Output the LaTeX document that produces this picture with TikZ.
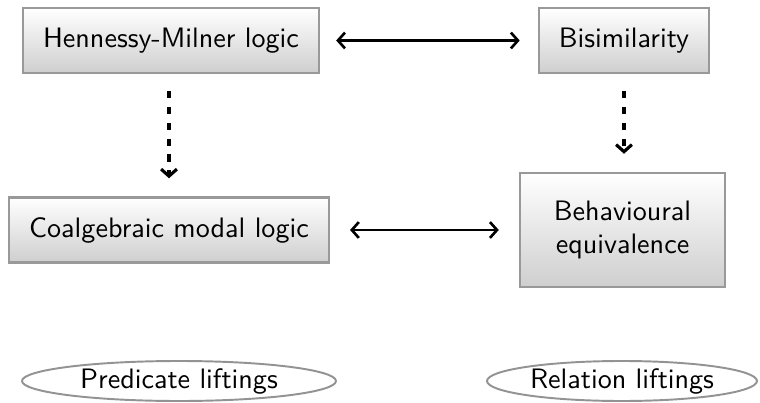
\documentclass[tikz,border=0pt]{standalone}
\usepackage{fontspec}
\setsansfont{lmsans10-regular.otf}
\usepackage{xcolor}
\usepackage{tikz}
\usetikzlibrary{arrows.meta,positioning,shapes.geometric}

\begin{document}
\begin{tikzpicture}[
    font=\sffamily\fontsize{16}{19}\selectfont,
    concept/.style={draw=gray!80, line width=1.4pt, top color=white, bottom color=gray!38, inner xsep=0.4cm, minimum height=1.3cm},
    tool/.style={draw=gray!85, ellipse, line width=1.1pt, fill=white, inner sep=0pt, minimum height=0.8cm},
    equiv/.style={{Straight Barb[length=4pt,width=9pt]}-{Straight Barb[length=4pt,width=9pt]}, line width=1.5pt},
    implies/.style={-{Straight Barb[length=4pt,width=9pt]}, line width=1.8pt, dash pattern=on 4pt off 5pt, shorten <=0.34cm, shorten >=0.36cm}
]
\useasboundingbox (0,0) rectangle (15.2,8.04);

\node[concept] (hml) at (3.42, 7.23) {Hennessy-Milner logic};
\node[concept] (bisim) at (12.48, 7.23) {Bisimilarity};
\node[concept] (cml) at (3.38, 3.44) {Coalgebraic modal logic};
\node[concept, align=center, minimum width=4.1cm, minimum height=2.28cm] (beheq) at (12.45, 3.44) {Behavioural\\equivalence};

\node[tool, minimum width=6.28cm] (predlift) at (3.58, 0.42) {Predicate liftings};
\node[tool, minimum width=5.4cm] (rellift) at (12.44, 0.42) {Relation liftings};

\draw[equiv, shorten <=0.32cm, shorten >=0.36cm] (hml) -- (bisim);
\draw[equiv, shorten <=0.4cm, shorten >=0.4cm] (cml) -- (beheq);
\draw[implies] (hml.south -| cml) -- (cml);
\draw[implies] (bisim) -- (bisim |- beheq.north);

\end{tikzpicture}
\end{document}
